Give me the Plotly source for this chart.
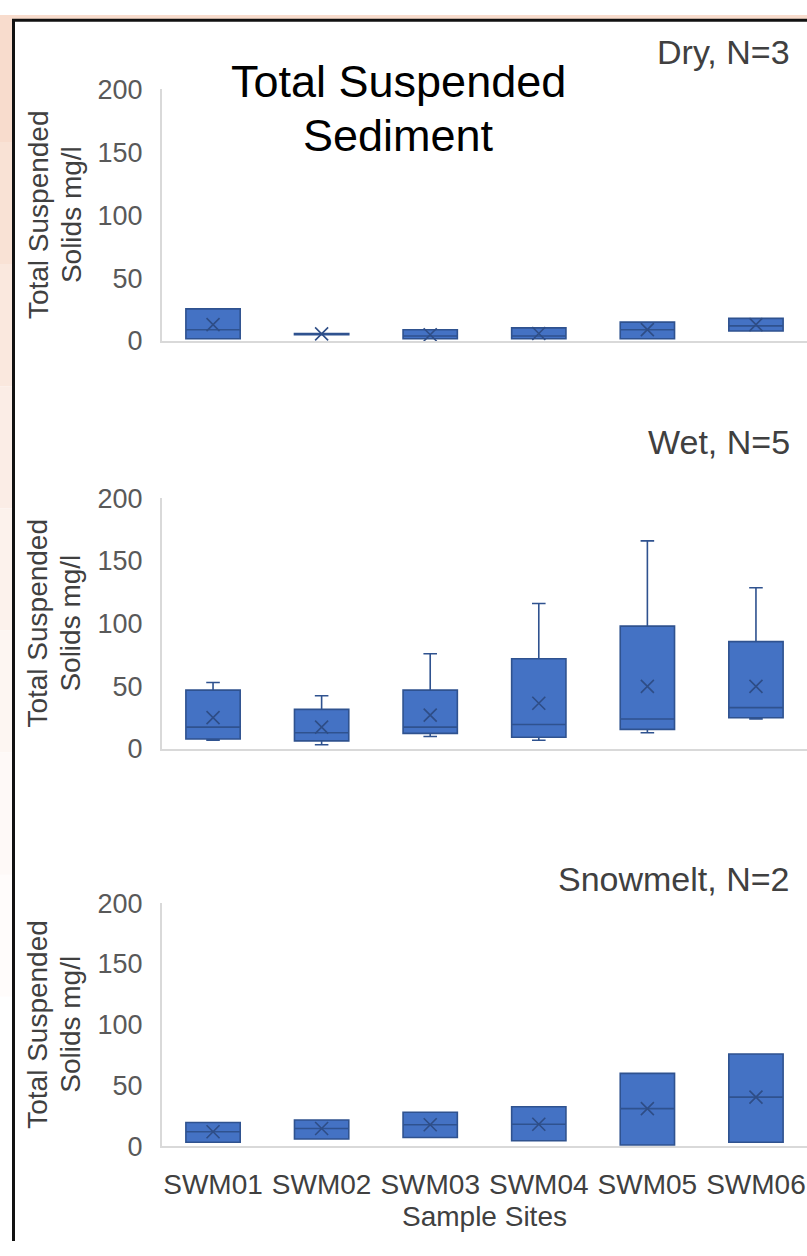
import plotly.graph_objects as go

W, H = 807, 1256

sites = ["SWM01", "SWM02", "SWM03", "SWM04", "SWM05", "SWM06"]
y_ticks = [0, 50, 100, 150, 200]

# Dry season, N=3
dry_lower = [1.8, 5.0, 1.8, 1.8, 1.8, 8.0]
dry_q1 = [1.8, 5.0, 1.8, 1.8, 1.8, 8.0]
dry_median = [9.0, 5.5, 4.0, 4.0, 9.0, 12.0]
dry_q3 = [25.5, 6.0, 9.0, 10.4, 15.0, 18.0]
dry_upper = [25.5, 6.0, 9.0, 10.4, 15.0, 18.0]
dry_mean = [13.0, 5.7, 5.0, 6.0, 9.0, 13.0]

# Wet season, N=5
wet_lower = [7.0, 3.4, 10.0, 7.0, 13.0, 24.0]
wet_q1 = [8.0, 6.5, 12.5, 9.4, 15.7, 25.0]
wet_median = [17.5, 13.0, 17.5, 19.6, 24.0, 33.0]
wet_q3 = [47.0, 31.6, 47.0, 72.0, 98.0, 85.6]
wet_upper = [53.0, 42.5, 76.0, 116.0, 166.0, 128.6]
wet_mean = [25.0, 17.5, 27.0, 36.5, 50.0, 50.0]

# Snowmelt, N=2
snow_lower = [3.3, 6.0, 7.3, 4.6, 1.1, 3.3]
snow_q1 = [3.3, 6.0, 7.3, 4.6, 1.1, 3.3]
snow_median = [12.0, 14.7, 17.7, 18.2, 31.0, 40.5]
snow_q3 = [19.6, 21.7, 28.0, 32.6, 60.0, 76.0]
snow_upper = [19.6, 21.7, 28.0, 32.6, 60.0, 76.0]
snow_mean = [12.0, 14.7, 17.7, 18.2, 31.0, 40.5]

panels = [
    ("Dry, N=3", dry_lower, dry_q1, dry_median, dry_q3, dry_upper, dry_mean, (76, 334), 38),
    ("Wet, N=5", wet_lower, wet_q1, wet_median, wet_q3, wet_upper, wet_mean, (495, 752), 437),
    ("Snowmelt, N=2", snow_lower, snow_q1, snow_median, snow_q3, snow_upper, snow_mean, (910, 1159), 885),
]

BOX_FILL = "#4472C4"
BOX_LINE = "#2F528F"
AXIS_GRAY = "#d9d9d9"
TXT = "#404040"
FONT = "Liberation Sans, Arial"

def px_x(p):
    return p / W

def px_y(p):
    return 1 - p / H

fig = go.Figure()
annotations = []
layout_axes = {}

for i, (label, lo, q1, med, q3, up, mean, (ytop, ybot), ylab) in enumerate(panels):
    n = i + 1
    xa = "x" if n == 1 else f"x{n}"
    ya = "y" if n == 1 else f"y{n}"
    fig.add_trace(go.Box(
        x=sites, q1=q1, median=med, q3=q3, lowerfence=lo, upperfence=up,
        boxpoints=False, width=0.5, whiskerwidth=0.25,
        fillcolor=BOX_FILL, line=dict(color=BOX_LINE, width=1.6),
        xaxis=xa, yaxis=ya, showlegend=False, hoverinfo="skip",
    ))
    fig.add_trace(go.Scatter(
        x=sites, y=mean, mode="markers",
        marker=dict(symbol="x-thin", size=13, line=dict(color="#2E4D86", width=1.6)),
        xaxis=xa, yaxis=ya, showlegend=False, hoverinfo="skip",
    ))
    xkey = "xaxis" if n == 1 else f"xaxis{n}"
    ykey = "yaxis" if n == 1 else f"yaxis{n}"
    layout_axes[xkey] = dict(
        domain=[px_x(162), 1.0], anchor=ya, type="category",
        categoryorder="array", categoryarray=sites,
        range=[-0.47, 5.47], showline=True, linecolor=AXIS_GRAY, linewidth=2,
        showgrid=False, zeroline=False, ticks="", ticklabelstandoff=12,
        showticklabels=(n == 3),
        tickfont=dict(family=FONT, size=28, color=TXT),
    )
    layout_axes[ykey] = dict(
        domain=[px_y(ybot), px_y(ytop)], anchor=xa, range=[0, 200],
        tickvals=y_ticks, showline=True, linecolor=AXIS_GRAY, linewidth=2,
        showgrid=False, zeroline=False, ticks="", ticklabelstandoff=12,
        tickfont=dict(family=FONT, size=27, color="#595959"),
    )
    annotations.append(dict(
        text=label, x=px_x(792), y=px_y(ylab), xref="paper", yref="paper",
        xanchor="right", yanchor="middle", showarrow=False,
        font=dict(family=FONT, size=34, color=TXT),
    ))
    ymid = px_y((ytop + ybot) / 2)
    for xpos, line_txt in ((38, "Total Suspended"), (71, "Solids mg/l")):
        annotations.append(dict(
            text=line_txt, x=px_x(xpos), y=ymid,
            xref="paper", yref="paper", xanchor="center", yanchor="middle",
            textangle=-90, showarrow=False,
            font=dict(family=FONT, size=28, color=TXT),
        ))

for ypos, line_txt in ((68, "Total Suspended"), (123, "Sediment")):
    annotations.append(dict(
        text=line_txt, x=px_x(398), y=px_y(ypos), xref="paper", yref="paper",
        xanchor="center", yanchor="middle", showarrow=False,
        font=dict(family=FONT, size=45, color="#000000"),
    ))
annotations.append(dict(
    text="Sample Sites", x=px_x(484), y=px_y(1231), xref="paper", yref="paper",
    xanchor="center", yanchor="middle", showarrow=False,
    font=dict(family=FONT, size=28, color=TXT),
))

# Background frame: peach strips and black border
shapes = [dict(type="rect", xref="paper", yref="paper", x0=0, x1=1, y0=px_y(5), y1=1,
               fillcolor="#f8dccd", line=dict(width=0), layer="below")]
grad = ["#f8dccd", "#f9e2d5", "#fae8de", "#fbede6", "#fcf2ec", "#fdf6f2", "#fef9f7", "#fffcfb", "#ffffff", "#ffffff"]
seg = (H - 5) / len(grad)
for k, c in enumerate(grad):
    shapes.append(dict(type="rect", xref="paper", yref="paper", x0=0, x1=px_x(12),
                       y0=px_y(5 + (k + 1) * seg), y1=px_y(5 + k * seg),
                       fillcolor=c, line=dict(width=0), layer="below"))
shapes.append(dict(type="line", xref="paper", yref="paper", x0=px_x(13.5), x1=px_x(13.5),
                   y0=0, y1=px_y(4), line=dict(color="#111111", width=3)))
shapes.append(dict(type="line", xref="paper", yref="paper", x0=px_x(12), x1=1,
                   y0=px_y(5.5), y1=px_y(5.5), line=dict(color="#111111", width=3)))

fig.update_layout(
    width=W, height=H, margin=dict(l=0, r=0, t=0, b=0),
    paper_bgcolor="white", plot_bgcolor="white",
    annotations=annotations, shapes=shapes, **layout_axes,
)

post = (
    "document.body.style.margin='0';document.body.style.overflow='hidden';"
    "var d=document.getElementsByClassName('plotly-graph-div')[0];"
    "d.style.position='absolute';d.style.top='0px';d.style.left='0px';"
)
fig.write_html("out.html", config={"displayModeBar": False}, post_script=post)
